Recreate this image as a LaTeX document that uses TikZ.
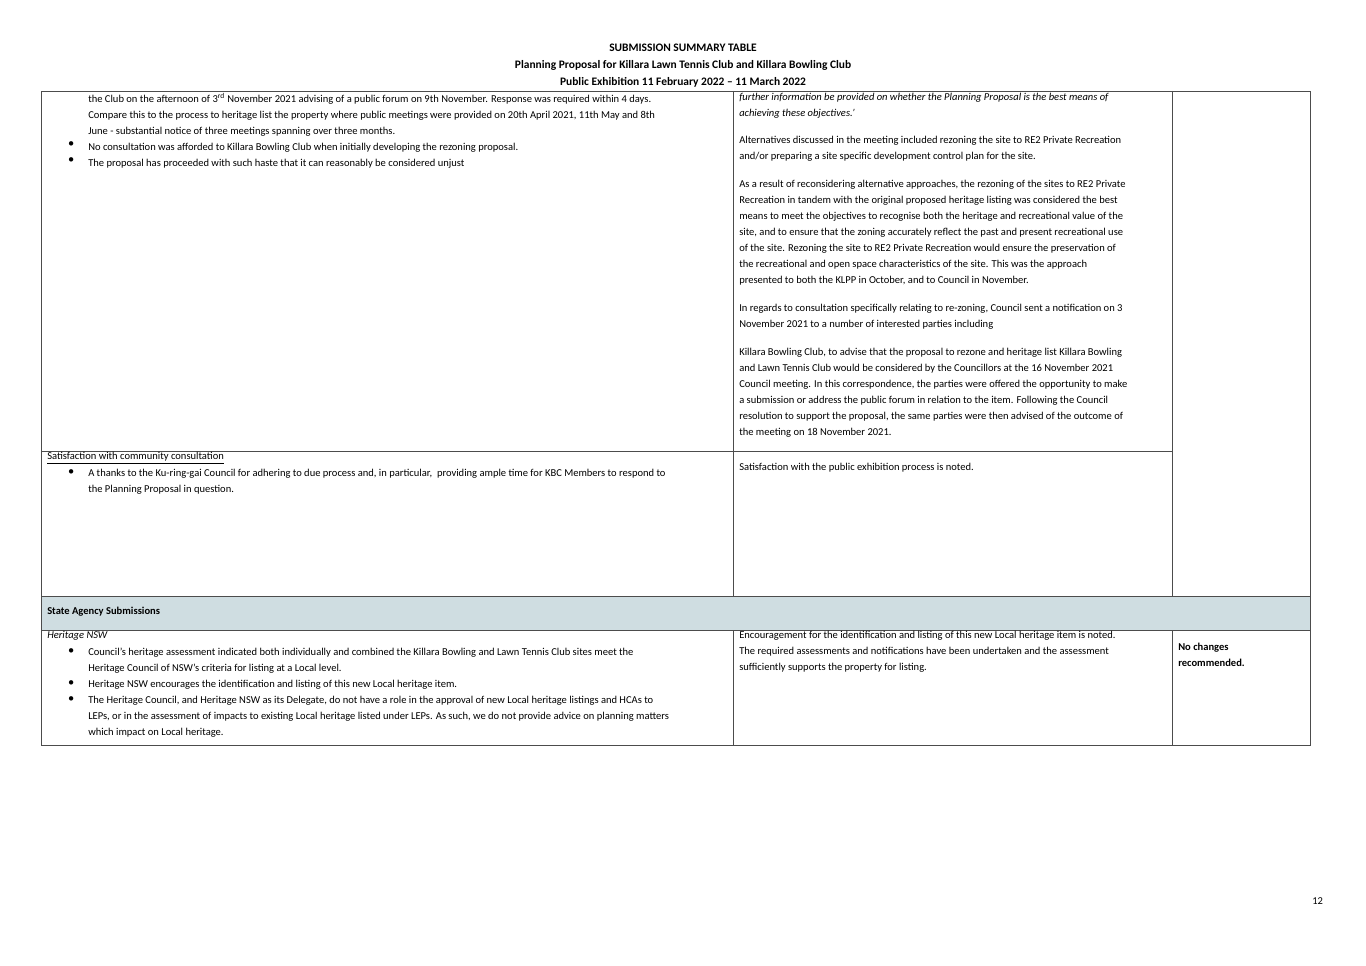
\documentclass[tikz,border=0pt]{standalone}
\usepackage{fontspec}
\setmainfont{Carlito}
\begin{document}
\begin{tikzpicture}[x=0.75pt,y=-0.75pt,
  txt/.style={anchor=north west,align=left,inner sep=0pt,font=\fontsize{7.9}{12}\selectfont},
  ttl/.style={anchor=center,inner sep=0pt,font=\fontsize{8.6}{12}\selectfont\bfseries},
  rule/.style={draw=black!70,line width=0.5pt}]
\useasboundingbox (0,0) rectangle (1366,966);
\fill[white] (0,0) rectangle (1366,966);
\node[ttl] (t1) at (683,48) {SUBMISSION SUMMARY TABLE};
\node[ttl] (t2) at (683,65) {Planning Proposal for Killara Lawn Tennis Club and Killara Bowling Club};
\node[ttl] (t3) at (683,82) {Public Exhibition 11 February 2022 -- 11 March 2022};
% grey band
\fill[fill={rgb,255:red,207;green,221;blue,225}] (41,596) rectangle (1310,630);
% table rules
\draw[rule] (41,91) rectangle (1310,745);
\draw[rule] (733,91) -- (733,596);
\draw[rule] (1172,91) -- (1172,596);
\draw[rule] (733,630) -- (733,745);
\draw[rule] (1172,630) -- (1172,745);
\draw[rule] (41,451) -- (1172,451);
\draw[rule] (41,596) -- (1310,596);
\draw[rule] (41,630) -- (1310,630);
% col1 top
\node[txt] (a1) at (88,93) {the Club on the afternoon of 3\textsuperscript{rd} November 2021 advising of a public forum on 9th November. Response was required within 4 days.\\
Compare this to the process to heritage list the property where public meetings were provided on 20th April 2021, 11th May and 8th\\
June - substantial notice of three meetings spanning over three months.\\
No consultation was afforded to Killara Bowling Club when initially developing the rezoning proposal.\\
The proposal has proceeded with such haste that it can reasonably be considered unjust};
\node[txt] (b1) at (68,141) {$\bullet$\\ $\bullet$};
% col2 top
\node[txt] (a2) at (739,93) {\itshape further information be provided on whether the Planning Proposal is the best means of\\
\itshape achieving these objectives.'};
\node[txt] (a3) at (739,136) {Alternatives discussed in the meeting included rezoning the site to RE2 Private Recreation\\
and/or preparing a site specific development control plan for the site.};
\node[txt] (a4) at (739,180) {As a result of reconsidering alternative approaches, the rezoning of the sites to RE2 Private\\
Recreation in tandem with the original proposed heritage listing was considered the best\\
means to meet the objectives to recognise both the heritage and recreational value of the\\
site, and to ensure that the zoning accurately reflect the past and present recreational use\\
of the site. Rezoning the site to RE2 Private Recreation would ensure the preservation of\\
the recreational and open space characteristics of the site. This was the approach\\
presented to both the KLPP in October, and to Council in November.};
\node[txt] (a5) at (739,304) {In regards to consultation specifically relating to re-zoning, Council sent a notification on 3\\
November 2021 to a number of interested parties including};
\node[txt] (a6) at (739,348) {Killara Bowling Club, to advise that the proposal to rezone and heritage list Killara Bowling\\
and Lawn Tennis Club would be considered by the Councillors at the 16 November 2021\\
Council meeting. In this correspondence, the parties were offered the opportunity to make\\
a submission or address the public forum in relation to the item. Following the Council\\
resolution to support the proposal, the same parties were then advised of the outcome of\\
the meeting on 18 November 2021.};
% satisfaction row
\node[txt] (c1) at (47,452) {\underline{Satisfaction with community consultation}};
\node[txt] (c2) at (88,469) {A thanks to the Ku-ring-gai Council for adhering to due process and, in particular,\ \ providing ample time for KBC Members to respond to\\
the Planning Proposal in question.};
\node[txt] (c3) at (68,469) {$\bullet$};
\node[txt] (c4) at (739,463) {Satisfaction with the public exhibition process is noted.};
% band
\node[txt,font=\fontsize{7.9}{12}\selectfont\bfseries] (s1) at (47,607) {State Agency Submissions};
% heritage row
\node[txt] (h1) at (47,631) {\itshape Heritage NSW};
\node[txt] (h2) at (88,648) {Council's heritage assessment indicated both individually and combined the Killara Bowling and Lawn Tennis Club sites meet the\\
Heritage Council of NSW's criteria for listing at a Local level.\\
Heritage NSW encourages the identification and listing of this new Local heritage item.\\
The Heritage Council, and Heritage NSW as its Delegate, do not have a role in the approval of new Local heritage listings and HCAs to\\
LEPs, or in the assessment of impacts to existing Local heritage listed under LEPs. As such, we do not provide advice on planning matters\\
which impact on Local heritage.};
\node[txt] (h3) at (68,648) {$\bullet$\\ \\ $\bullet$\\ $\bullet$};
\node[txt] (h4) at (739,631) {Encouragement for the identification and listing of this new Local heritage item is noted.\\
The required assessments and notifications have been undertaken and the assessment\\
sufficiently supports the property for listing.};
\node[txt,font=\fontsize{7.9}{12}\selectfont\bfseries] (h5) at (1178,643) {No changes\\ recommended.};
\node[txt] (pg) at (1312,897) {12};
\end{tikzpicture}
\end{document}
